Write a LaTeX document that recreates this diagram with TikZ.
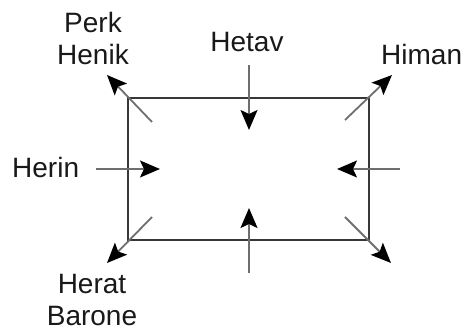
\documentclass[tikz,border=0pt]{standalone}
\usepackage{fontspec}
\setmainfont{Liberation Sans}
\usetikzlibrary{arrows.meta, positioning}
\definecolor{framegray}{RGB}{55,55,55}
\definecolor{shaftgray}{RGB}{110,110,110}
\definecolor{labelink}{RGB}{25,25,25}
\tikzstyle{lbl}=[inner sep=0pt, font=\fontsize{28}{32}\selectfont,
  text=labelink, align=center]
\tikzstyle{farr}=[-{Stealth[length=20pt, width=17pt, inset=4pt, color=black]},
  line width=1.8pt, color=shaftgray]
\tikzstyle{frame}=[rectangle, draw=framegray, line width=1.4pt,
  minimum width=241pt, minimum height=142pt, inner sep=0pt]

\begin{document}
\begin{tikzpicture}[x=1pt, y=-1pt]
    \useasboundingbox (0,0) rectangle (464,331);
    \node[frame] (box) at (248.5,169) {};
    % labels
    \node[lbl, anchor=base] (hetav) at (247,52) {Hetav};
    \node[lbl, anchor=base west] (herin) at (12,178) {Herin};
    \node[lbl, anchor=base west] (himan) at (381,65) {Himan};
    \node[lbl, anchor=north] (perk) at (93,12) {Perk\\Henik};
    \node[lbl, anchor=north] (herat) at (92,274) {Herat\\Barone};
    % arrow ends
    \coordinate (t0) at (249,65);  \coordinate (t1) at (249,130);
    \coordinate (b0) at (249,273); \coordinate (b1) at (249,208);
    \coordinate (l0) at (96,169);  \coordinate (l1) at (160,169);
    \coordinate (r0) at (400,169); \coordinate (r1) at (337,169);
    \coordinate (tl0) at (152,122); \coordinate (tl1) at (107,75);
    \coordinate (tr0) at (345,120); \coordinate (tr1) at (392,75);
    \coordinate (bl0) at (152,217); \coordinate (bl1) at (107,263);
    \coordinate (br0) at (345,217); \coordinate (br1) at (391,263);
    \draw[farr] (t0)--(t1);
    \draw[farr] (b0)--(b1);
    \draw[farr] (l0)--(l1);
    \draw[farr] (r0)--(r1);
    \draw[farr] (tl0)--(tl1);
    \draw[farr] (tr0)--(tr1);
    \draw[farr] (bl0)--(bl1);
    \draw[farr] (br0)--(br1);
  \end{tikzpicture}
\end{document}
